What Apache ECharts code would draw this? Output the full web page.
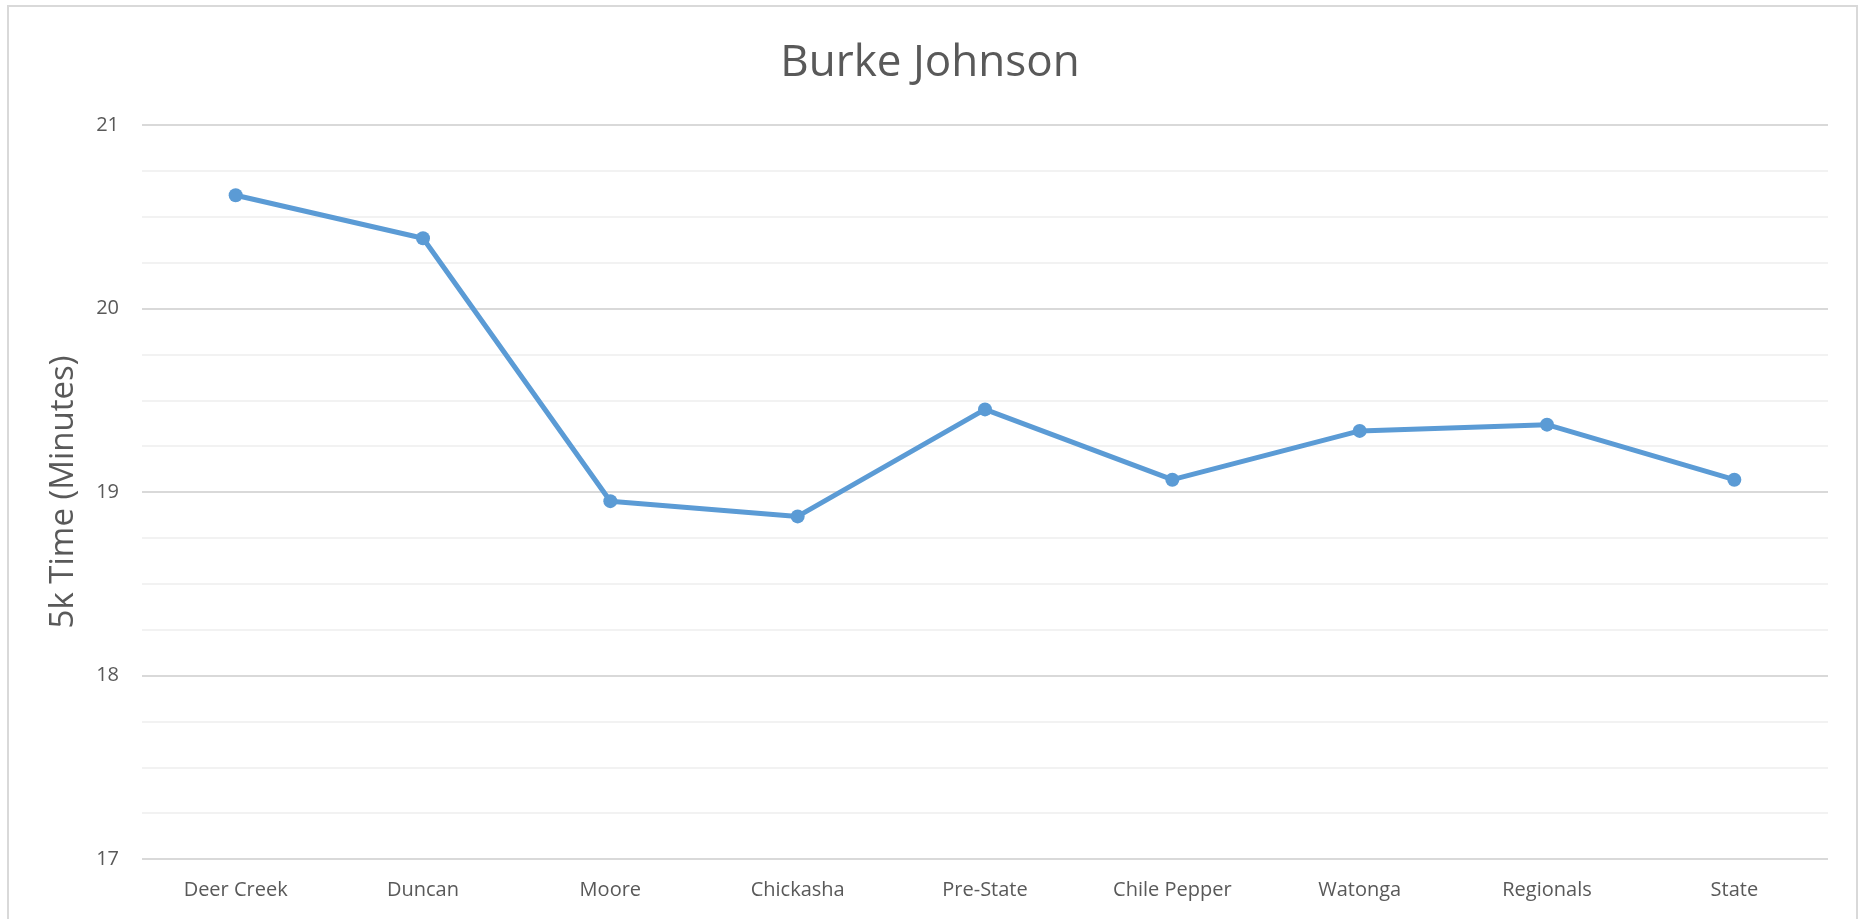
<!DOCTYPE html>
<html>
<head>
<meta charset="utf-8">
<script src="https://cdn.jsdelivr.net/npm/echarts@6/dist/echarts.min.js"></script>
<style>
html,body{margin:0;padding:0;background:#fff;}
#chart{width:1860px;height:919px;}
</style>
</head>
<body>
<div id="chart"></div>
<script>
const chartTitle = "Burke Johnson";
const yAxisName = "5k Time (Minutes)";
const categories = ["Deer Creek", "Duncan", "Moore", "Chickasha", "Pre-State", "Chile Pepper", "Watonga", "Regionals", "State"];
const times = [20.617, 20.383, 18.95, 18.867, 19.45, 19.067, 19.333, 19.367, 19.067];
const yMin = 17;
const yMax = 21;
const yStep = 1;

const chart = echarts.init(document.getElementById('chart'), null, {renderer: 'canvas'});
const textColor = '#595959';
const fontFamily = '"Open Sans", sans-serif';
chart.setOption({
  animation: false,
  backgroundColor: '#ffffff',
  title: {
    text: chartTitle,
    left: 'center',
    top: 36,
    textStyle: {color: textColor, fontSize: 44, fontWeight: 'normal', fontFamily: fontFamily}
  },
  graphic: [{
    type: 'rect',
    shape: {x: 8, y: 6, width: 1849, height: 1000},
    style: {fill: null, stroke: '#d9d9d9', lineWidth: 2},
    silent: true,
    z: -1
  }],
  grid: {left: 142, right: 32, top: 125, bottom: 60, containLabel: false},
  xAxis: {
    type: 'category',
    data: categories,
    boundaryGap: true,
    axisLine: {show: false},
    axisTick: {show: false},
    axisLabel: {color: textColor, fontSize: 20, fontFamily: fontFamily, margin: 21, interval: 0}
  },
  yAxis: {
    type: 'value',
    min: yMin,
    max: yMax,
    interval: yStep,
    name: yAxisName,
    nameLocation: 'middle',
    nameGap: 62,
    nameTextStyle: {color: textColor, fontSize: 33, fontFamily: fontFamily},
    axisLine: {show: false},
    axisTick: {show: false},
    axisLabel: {color: textColor, fontSize: 20, fontFamily: fontFamily, margin: 23},
    splitLine: {show: true, lineStyle: {color: '#d9d9d9', width: 2}},
    minorTick: {show: false, splitNumber: 4},
    minorSplitLine: {show: true, lineStyle: {color: '#f2f2f2', width: 2}}
  },
  series: [{
    type: 'line',
    data: times,
    symbol: 'circle',
    symbolSize: 14,
    lineStyle: {color: '#5b9bd5', width: 5},
    itemStyle: {color: '#5b9bd5'},
    z: 3
  }]
});
</script>
</body>
</html>
